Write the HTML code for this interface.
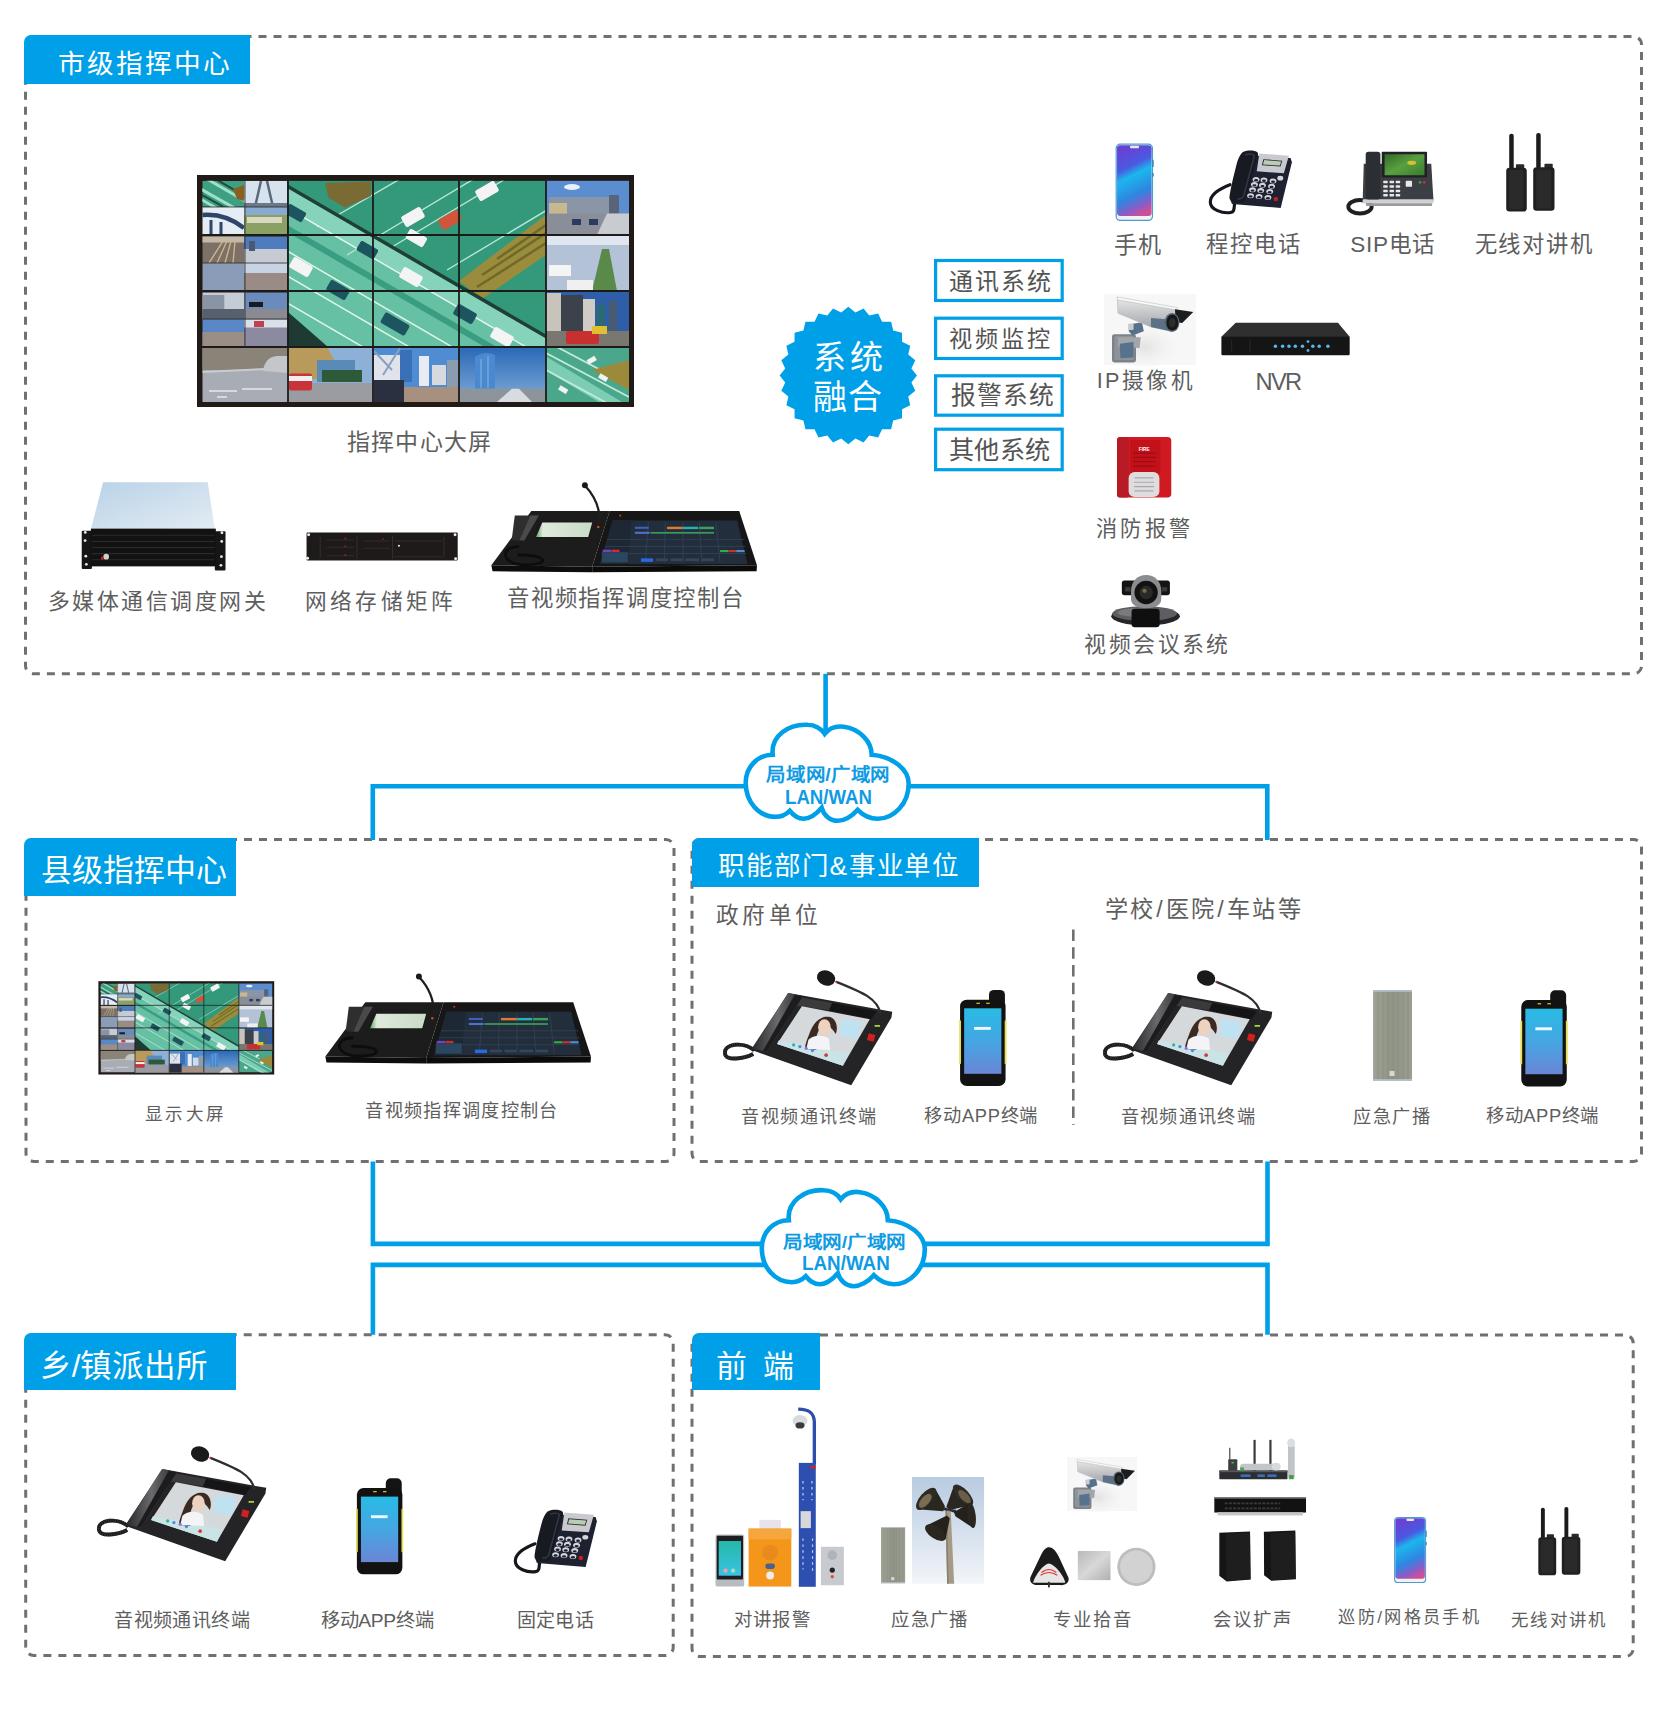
<!DOCTYPE html>
<html lang="zh-CN"><head><meta charset="utf-8"><title>diagram</title>
<style>
html,body{margin:0;padding:0;background:#fff;}
body{width:1667px;height:1715px;position:relative;overflow:hidden;font-family:"Liberation Sans",sans-serif;}
.t{position:absolute;white-space:pre;}
.lab{position:absolute;background:#00a0e9;border-top-left-radius:7px;}
svg{position:absolute;left:0;top:0;}
</style></head><body>
<svg width="1667" height="1715" viewBox="0 0 1667 1715">
<rect x="25.5" y="36.4" width="1616.0" height="637.4" rx="8" ry="8" fill="none" stroke="#707070" stroke-width="3" stroke-dasharray="8 7"/>
<rect x="26" y="839.6" width="648" height="321.80000000000007" rx="8" ry="8" fill="none" stroke="#707070" stroke-width="3" stroke-dasharray="8 7"/>
<rect x="692" y="839.6" width="949.5" height="321.80000000000007" rx="8" ry="8" fill="none" stroke="#707070" stroke-width="3" stroke-dasharray="8 7"/>
<rect x="25.7" y="1334.8" width="647.5" height="320.70000000000005" rx="8" ry="8" fill="none" stroke="#707070" stroke-width="3" stroke-dasharray="8 7"/>
<rect x="692" y="1335" width="941.2" height="321.5" rx="8" ry="8" fill="none" stroke="#707070" stroke-width="3" stroke-dasharray="8 7"/>
<line x1="1073.3" y1="929.6" x2="1073.3" y2="1125" stroke="#707070" stroke-width="2.6" stroke-dasharray="11.5 6.2"/>
<path d="M825.6,673.8 V735" stroke="#00a0e9" stroke-width="4.6" fill="none"/>
<path d="M372.8,839.9 V786.2 H760 M900,786.2 H1267.3 V839.9" stroke="#00a0e9" stroke-width="4.6" fill="none" stroke-linejoin="miter"/>
<path d="M372.9,1161.4 V1243.9 H780 M910,1243.9 H1267.5 V1161.4" stroke="#00a0e9" stroke-width="4.6" fill="none"/>
<path d="M372.9,1334.8 V1264.9 H780 M910,1264.9 H1267.5 V1334.8" stroke="#00a0e9" stroke-width="4.6" fill="none"/>
<path transform="translate(743.7,721.8)" d="M29,33 C27,14 45,2 64,3 C71,3 78,7 81,12 C86,6 93,4 100,5 C116,7 128,20 128,33 C150,35 165,48 165,62 C165,82 150,97 134,97 C126,97 119,93 114,88 C108,95 100,99 94,99 C86,99 80,93 78,86 C72,93 66,97 60,97 C55,97 50,94 46,89 C42,93 37,95 32,95 C15,95 2,80 2,61 C2,45 14,33 29,33 Z" fill="#fff" stroke="#00a0e9" stroke-width="4.6"/>
<path transform="translate(759.8,1187.2)" d="M29,33 C27,14 45,2 64,3 C71,3 78,7 81,12 C86,6 93,4 100,5 C116,7 128,20 128,33 C150,35 165,48 165,62 C165,82 150,97 134,97 C126,97 119,93 114,88 C108,95 100,99 94,99 C86,99 80,93 78,86 C72,93 66,97 60,97 C55,97 50,94 46,89 C42,93 37,95 32,95 C15,95 2,80 2,61 C2,45 14,33 29,33 Z" fill="#fff" stroke="#00a0e9" stroke-width="4.6"/>
<rect x="935.6" y="260.5" width="126.59999999999995" height="40.00000000000004" fill="none" stroke="#00a0e9" stroke-width="3.2"/>
<rect x="935.6" y="318.20000000000005" width="126.59999999999995" height="40.3" fill="none" stroke="#00a0e9" stroke-width="3.2"/>
<rect x="935.6" y="375.8" width="126.59999999999995" height="39.40000000000002" fill="none" stroke="#00a0e9" stroke-width="3.2"/>
<rect x="935.6" y="429.20000000000005" width="126.59999999999995" height="40.499999999999986" fill="none" stroke="#00a0e9" stroke-width="3.2"/>
<polygon points="848.30,306.80 855.41,312.40 863.59,308.52 869.27,315.56 878.11,313.60 882.08,321.73 891.13,321.79 893.20,330.60 902.01,332.67 902.07,341.72 910.20,345.69 908.24,354.53 915.28,360.21 911.40,368.39 917.00,375.50 911.40,382.61 915.28,390.79 908.24,396.47 910.20,405.31 902.07,409.28 902.01,418.33 893.20,420.40 891.13,429.21 882.08,429.27 878.11,437.40 869.27,435.44 863.59,442.48 855.41,438.60 848.30,444.20 841.19,438.60 833.01,442.48 827.33,435.44 818.49,437.40 814.52,429.27 805.47,429.21 803.40,420.40 794.59,418.33 794.53,409.28 786.40,405.31 788.36,396.47 781.32,390.79 785.20,382.61 779.60,375.50 785.20,368.39 781.32,360.21 788.36,354.53 786.40,345.69 794.53,341.72 794.59,332.67 803.40,330.60 805.47,321.79 814.52,321.73 818.49,313.60 827.33,315.56 833.01,308.52 841.19,312.40" fill="#00a0e9"/>
</svg>
<div class="lab" style="left:24px;top:35px;width:226px;height:49px"></div><div class="lab" style="left:24px;top:838px;width:212px;height:58px"></div><div class="lab" style="left:691.5px;top:838px;width:287.0px;height:48.60000000000002px"></div><div class="lab" style="left:24px;top:1333px;width:212px;height:57px"></div><div class="lab" style="left:692px;top:1333px;width:128px;height:57px"></div>
<svg width="1667" height="1715" viewBox="0 0 1667 1715" style="position:absolute;left:0;top:0"><defs>
<linearGradient id="lidg" x1="0" y1="0" x2="1" y2="1"><stop offset="0" stop-color="#b9d2e8"/><stop offset="1" stop-color="#e3ecf3"/></linearGradient>
<linearGradient id="smallscr" x1="0" y1="0" x2="1" y2="0"><stop offset="0" stop-color="#58a858"/><stop offset="0.12" stop-color="#dfe9dc"/><stop offset="1" stop-color="#c8dcc6"/></linearGradient>
<linearGradient id="mphg" x1="0.38" y1="0" x2="0.62" y2="1"><stop offset="0" stop-color="#6a40d4"/><stop offset="0.28" stop-color="#4a5ae0"/><stop offset="0.42" stop-color="#1cb6ee"/><stop offset="0.7" stop-color="#2e86e0"/><stop offset="0.88" stop-color="#8a5cc8"/><stop offset="1" stop-color="#d04e96"/></linearGradient>
<linearGradient id="sipscr" x1="0" y1="0" x2="1" y2="1"><stop offset="0" stop-color="#2f6a2a"/><stop offset="0.5" stop-color="#5aa040"/><stop offset="1" stop-color="#3a7a30"/></linearGradient>
<radialGradient id="camglow" cx="0.5" cy="0.6" r="0.6"><stop offset="0" stop-color="#e2e2e2"/><stop offset="1" stop-color="#ffffff" stop-opacity="0"/></radialGradient>
<linearGradient id="housing" x1="0" y1="0" x2="0" y2="1"><stop offset="0" stop-color="#e4e4e4"/><stop offset="1" stop-color="#9a9ea4"/></linearGradient>
<linearGradient id="hset" x1="0" y1="0" x2="1" y2="0"><stop offset="0" stop-color="#2a2a2c"/><stop offset="0.5" stop-color="#6a6a6e"/><stop offset="1" stop-color="#2a2a2c"/></linearGradient>
<linearGradient id="rpscr" x1="0" y1="0" x2="0" y2="1"><stop offset="0" stop-color="#28bbe6"/><stop offset="0.5" stop-color="#45a6e2"/><stop offset="1" stop-color="#6a86d6"/></linearGradient>
<linearGradient id="facescr" x1="0" y1="0" x2="0" y2="1"><stop offset="0" stop-color="#26b8a8"/><stop offset="1" stop-color="#38c4e4"/></linearGradient>
<linearGradient id="skyg" x1="0" y1="0" x2="0" y2="1"><stop offset="0" stop-color="#b8cbe0"/><stop offset="1" stop-color="#f2f5f9"/></linearGradient>
<linearGradient id="silv" x1="0" y1="0" x2="1" y2="1"><stop offset="0" stop-color="#b8b8b8"/><stop offset="0.5" stop-color="#d8d8d8"/><stop offset="1" stop-color="#b0b0b0"/></linearGradient>
<linearGradient id="bluesky" x1="0" y1="0" x2="0" y2="1"><stop offset="0" stop-color="#2a68b6"/><stop offset="1" stop-color="#80acd8"/></linearGradient>
<linearGradient id="spkg" x1="0" y1="0" x2="1" y2="0"><stop offset="0" stop-color="#9ea394"/><stop offset="0.5" stop-color="#8f9486"/><stop offset="1" stop-color="#9a9e90"/></linearGradient>
</defs>
<defs><g id="wall">
<rect x="0" y="0" width="437" height="232" fill="#221a17"/>
<!-- col0 subtiles -->
<clipPath id="c0"><rect x="5.3" y="5.8" width="85.7" height="221.2"/></clipPath>
<g clip-path="url(#c0)">
<rect x="5.3" y="5.8" width="42" height="26" fill="#3f9f82"/>
<path d="M0,12 L50,40 M0,22 L40,45 M10,4 L55,30" stroke="#9fe0c8" stroke-width="3"/>
<path d="M0,17 L50,45 M15,2 L60,28" stroke="#1f4a40" stroke-width="2"/>
<path d="M36,14 L47,10 L47,26 L40,24Z" fill="#8a6020"/>
<rect x="47.3" y="5.8" width="43" height="26" fill="#d6e2ee"/>
<path d="M58,32 L64,6 M70,6 L76,32" stroke="#5a6878" stroke-width="2.5"/>
<rect x="47.3" y="28" width="43" height="4" fill="#6a7888"/>
<rect x="5.3" y="32" width="42" height="27.5" fill="#e6ecf4"/>
<path d="M5.3,40 Q28,38 47,53" stroke="#2e4468" stroke-width="4.5" fill="none"/>
<path d="M14,45 V59.5 M24,47 V59.5" stroke="#2e4468" stroke-width="3"/>
<rect x="47.3" y="32" width="43" height="27.5" fill="#8aa064"/>
<rect x="47.3" y="32" width="43" height="8" fill="#88aad0"/>
<rect x="50" y="42" width="35" height="6" fill="#d8d8c0"/>
<rect x="5.3" y="61.5" width="42" height="26.5" fill="#7d7066"/>
<rect x="5.3" y="61.5" width="42" height="6" fill="#c4b8a8"/>
<path d="M12,88 L26,66 M20,88 L30,66 M28,88 L34,66 M36,88 L38,66" stroke="#c9b48c" stroke-width="1.4"/>
<rect x="47.3" y="61.5" width="43" height="26.5" fill="#4f7cbc"/>
<rect x="47.3" y="74" width="43" height="14" fill="#c6cad2"/>
<rect x="52" y="66" width="6" height="10" fill="#4a5a70"/>
<rect x="5.3" y="88" width="42" height="28" fill="#8a9cb8"/>
<rect x="47.3" y="88" width="43" height="28" fill="#9a8c84"/>
<rect x="47.3" y="88" width="43" height="10" fill="#c8d4e4"/>
<rect x="5.3" y="117.5" width="42" height="27" fill="#c6ccd6"/>
<rect x="5.3" y="120" width="22" height="14" fill="#8a94a4"/>
<rect x="5.3" y="134" width="42" height="10.5" fill="#56606e"/>
<rect x="47.3" y="117.5" width="43" height="27" fill="#6a8cbc"/>
<rect x="52" y="127" width="14" height="5" fill="#1a1a1a"/>
<rect x="47.3" y="134" width="43" height="10.5" fill="#8a8a90"/>
<rect x="5.3" y="144.5" width="42" height="26.5" fill="#5a88c6"/>
<rect x="5.3" y="157" width="42" height="14" fill="#9a8e86"/>
<rect x="47.3" y="144.5" width="43" height="26.5" fill="#8c8aa0"/>
<rect x="47.3" y="144.5" width="43" height="8" fill="#d8e0ea"/>
<rect x="57" y="146" width="10" height="6" fill="#c04050"/>
<rect x="5.3" y="173" width="85.7" height="54" fill="#a8acb4"/>
<rect x="5.3" y="173" width="85.7" height="22" fill="#8a8478"/>
<path d="M5.3,197 L91,193" stroke="#c8ccd0" stroke-width="2"/>
<path d="M66,196 Q68,182 80,181 L91,181 L91,198 Z" fill="#c4c6ca"/>
<path d="M12,216 H40 M45,214 H75 M20,222 H30" stroke="#e8e8ee" stroke-width="1.6"/>
</g>
<!-- highway -->
<clipPath id="hwclip"><rect x="91" y="5.8" width="258" height="166.2"/></clipPath>
<g clip-path="url(#hwclip)">
<rect x="91" y="5.8" width="258" height="166.2" fill="#66c0a4"/>
<polygon points="80,5.8 360,5.8 360,169 80,6" fill="#33997a"/>
<path d="M150,80 L300,-10 M195,72 L345,-18 M250,95 L400,5 M290,112 L440,22 M120,52 L210,0" stroke="#b8e6d4" stroke-width="1.4"/>
<polygon points="128,8 174,6.5 174,21 148,32.4 131.6,22.7" fill="#7a6a34"/>
<polygon points="348.6,40 348.6,80 285,124 262,106" fill="#9b8b3c"/>
<path d="M285,100 L349,58 M280,112 L349,68 M300,84 L349,50" stroke="#6f6a28" stroke-width="2.5"/>
<polygon points="80,6 360,169 360,190 80,27" fill="#86d3bb"/>
<path d="M80,5 L360,168" stroke="#1f3f36" stroke-width="3.5"/>
<path d="M80,27 L360,190" stroke="#e6f6ef" stroke-width="1.4"/>
<polygon points="80,44 360,207 360,214 80,51" fill="#3a9c80"/>
<path d="M80,70 L360,233 M80,95 L360,258 M80,122 L360,285 M80,145 L360,308" stroke="#e0f4ea" stroke-width="1.5"/>
<polygon points="91,137 91,172 131,172" fill="#1f3a33"/>
<g fill="#f4f4f4">
<rect x="-11" y="-6" width="22" height="12" rx="2" transform="translate(104,92) rotate(30)"/>
<rect x="-11" y="-6" width="22" height="12" rx="2" transform="translate(214,102) rotate(30)"/>
<rect x="-11" y="-6" width="22" height="12" rx="2" transform="translate(305,162) rotate(30)"/>
<rect x="-11" y="-6" width="20" height="11" rx="2" transform="translate(220,64) rotate(30)"/>
<rect x="-11" y="-6" width="22" height="12" rx="2" transform="translate(216,42) rotate(-30)"/>
<rect x="-11" y="-6" width="22" height="12" rx="2" transform="translate(290,16) rotate(-30)"/>
</g>
<rect x="-11" y="-6" width="22" height="12" rx="3" transform="translate(253,45) rotate(-30)" fill="#d0553a"/>
<g fill="#1c5560">
<rect x="-11" y="-6" width="22" height="12" rx="2" transform="translate(141,115) rotate(30)"/>
<rect x="-11" y="-6" width="20" height="11" rx="2" transform="translate(171,76) rotate(30)"/>
<rect x="-14" y="-6" width="28" height="12" rx="2" transform="translate(198,149) rotate(30)"/>
<rect x="-11" y="-6" width="22" height="12" rx="2" transform="translate(268,139) rotate(30)"/>
<rect x="-11" y="-6" width="20" height="11" rx="2" transform="translate(99,39) rotate(30)"/>
</g>
</g>
<!-- row3 -->
<rect x="91" y="172" width="85" height="55" fill="#8db0d6"/>
<polygon points="91,172 130,172 140,190 133,204 91,204" fill="#b89a5a"/>
<rect x="120" y="185" width="38" height="22" fill="#5a8ab8"/>
<rect x="125" y="195" width="40" height="12" fill="#2f5a3a"/>
<rect x="91" y="208" width="85" height="19" fill="#9a9ca2"/>
<rect x="92" y="198.6" width="23" height="16.8" rx="2" fill="#c8343a"/>
<rect x="92" y="201" width="23" height="5" fill="#f0f0f0"/>
<rect x="176" y="172" width="86" height="55" fill="#4f8cd2"/>
<rect x="177" y="180" width="26" height="32" fill="#e0e4ea"/>
<path d="M177,176 L195,195 M203,173 L186,200" stroke="#8aa0c0" stroke-width="2"/>
<rect x="203" y="175" width="12" height="32" fill="#3a70b8"/>
<rect x="222" y="181" width="10" height="30" fill="#e8ecf2"/>
<rect x="235" y="190" width="14" height="20" fill="#d6dae0"/>
<rect x="250" y="185" width="12" height="27" fill="#8a9cb0"/>
<rect x="176" y="212" width="86" height="15" fill="#a89080"/>
<rect x="177" y="205" width="30" height="22" fill="#2a3040"/>
<rect x="262" y="172" width="87" height="55" fill="url(#bluesky)"/>
<path d="M278,213.7 L278,182 Q288,175 298,180 L298,213.7Z" fill="#4a88d0"/>
<path d="M284,213 V184 M291,213 V181" stroke="#7ab0e0" stroke-width="1.2"/>
<rect x="262" y="213.7" width="87" height="13.3" fill="#8e949c"/>
<polygon points="300,227 315,213.7 322,213.7 335,227" fill="#d8dce0"/>
<!-- col4 -->
<rect x="349" y="5.8" width="83" height="54" fill="#5a8ed0"/>
<ellipse cx="375" cy="12" rx="8" ry="3" fill="#e8f0f8"/>
<rect x="352" y="22" width="60" height="17" fill="#8a96a8"/>
<rect x="352" y="28" width="18" height="11" fill="#c8b890"/>
<rect x="412" y="20" width="10" height="19" fill="#5a6478"/>
<rect x="349" y="38.6" width="83" height="21" fill="#8a8e98"/>
<polygon points="410,38.6 432,38.6 432,59.8 400,59.8" fill="#c8ccd0"/>
<rect x="375" y="44" width="9" height="6" fill="#2a3a60"/><rect x="392" y="44" width="9" height="6" fill="#2a3a60"/>
<rect x="349" y="60" width="83" height="56" fill="#b4c2d8"/>
<rect x="349" y="60" width="83" height="10" fill="#dfe6ef"/>
<polygon points="405,74 412,74 420,116 395,116" fill="#5a8a4a"/>
<rect x="352" y="90" width="22" height="11" fill="#f4f4f4"/>
<rect x="370" y="105" width="26" height="11" fill="#f0f0f0"/>
<rect x="349" y="116" width="83" height="56" fill="#2f5ea8"/>
<rect x="349" y="118" width="15" height="40" fill="#c8c4bc"/>
<rect x="364" y="120" width="22" height="38" fill="#3c424c"/>
<rect x="386" y="124" width="12" height="34" fill="#d0ccc4"/>
<rect x="400" y="130" width="8" height="28" fill="#2a6a70"/>
<rect x="412" y="126" width="8" height="32" fill="#4a5a70"/>
<rect x="349" y="156" width="83" height="16" fill="#7a7670"/>
<rect x="369" y="156" width="33" height="13" rx="2" fill="#c83030"/>
<rect x="395" y="151" width="15" height="8" fill="#e0c030"/>
<clipPath id="c4r3"><rect x="349" y="172" width="83" height="55"/></clipPath><g clip-path="url(#c4r3)"><rect x="349" y="172" width="83" height="55" fill="#4aa78b"/>
<polygon points="340,176 440,236 440,250 340,190" fill="#7ccdb4"/>
<path d="M349,178 L432,222 M349,195 L432,240 M360,172 L432,210" stroke="#c2ead8" stroke-width="1.8"/>
<path d="M432,185 L432,215 L395,195Z" fill="#9a8a3a"/>
<g fill="#f2f2f2"><rect x="390" y="183" width="9" height="5" transform="rotate(-30 394 185)"/><rect x="402" y="200" width="9" height="5" transform="rotate(30 406 202)"/><rect x="362" y="212" width="9" height="5" transform="rotate(30 366 214)"/></g>
</g>
<!-- grid -->
<path d="M91,5.8 V227 M176,5.8 V227 M262,5.8 V227 M349,5.8 V227 M5.3,60 H432 M5.3,116 H432 M5.3,172 H432" stroke="#1d1b1a" stroke-width="1.8"/>
<path d="M48,5.8 V172 M5.3,32 H91 M5.3,88 H91 M5.3,144 H91" stroke="#2a2a2a" stroke-width="0.8"/>
</g>
</defs><!-- server -->
<g transform="translate(70,470) scale(0.10198)">
<polygon points="325,120 1350,120 1420,580 205,580" fill="url(#lidg)"/>
<rect x="115" y="595" width="100" height="375" rx="10" fill="#161616"/>
<rect x="1420" y="600" width="105" height="385" rx="10" fill="#161616"/>
<rect x="205" y="575" width="1225" height="370" fill="#121212"/>
<path d="M215,640 H1420 M215,700 H1420 M215,760 H1420 M215,820 H1420 M215,880 H1420" stroke="#2b2b2b" stroke-width="10"/>
<g fill="#e8e8e8"><circle cx="150" cy="612" r="14"/><circle cx="148" cy="692" r="14"/><circle cx="155" cy="845" r="14"/><circle cx="160" cy="925" r="14"/>
<circle cx="1490" cy="615" r="14"/><circle cx="1488" cy="700" r="14"/><circle cx="1485" cy="850" r="14"/><circle cx="1480" cy="935" r="14"/></g>
<circle cx="355" cy="850" r="28" fill="#cfcfcf"/><rect x="305" y="850" width="22" height="30" fill="#d02020"/>
</g>
<!-- NAS -->
<g transform="translate(295,520) scale(0.104976)">
<rect x="110" y="118" width="1440" height="268" rx="10" fill="#1e1a1a"/>
<path d="M240,160 V360 M590,150 V370 M930,150 V370 M1420,160 V360" stroke="#3a3434" stroke-width="8"/>
<path d="M300,190 H560 M300,260 H560 M300,340 H560 M650,200 H900 M650,270 H900 M950,200 H1400 M950,350 H1400" stroke="#332c2c" stroke-width="10"/>
<g fill="#8a2020"><circle cx="480" cy="175" r="10"/><circle cx="480" cy="250" r="10"/><circle cx="480" cy="335" r="10"/><circle cx="840" cy="180" r="8"/></g>
<g fill="#eee"><circle cx="130" cy="140" r="14"/><circle cx="1525" cy="140" r="14"/><circle cx="120" cy="365" r="14"/><circle cx="1530" cy="370" r="14"/><circle cx="990" cy="245" r="10"/></g>
</g>
<!-- console -->
<g id="console" transform="translate(480,470) scale(0.173974)">
<polygon points="295,236 745,236 645,556 65,548" fill="#1c1c1c"/>
<polygon points="65,548 645,556 645,588 72,582" fill="#0d0d0d"/>
<polygon points="745,236 1490,236 1592,548 645,556" fill="#161616"/>
<polygon points="645,556 1592,548 1590,582 645,588" fill="#0b0b0b"/>
<polygon points="762,290 1478,290 1538,540 690,540" fill="#222e3c"/>
<polygon points="762,290 870,290 850,540 690,540" fill="#1e2834"/>
<path d="M730,400 H1520 M720,440 H1525 M712,480 H1530 M968,300 L950,530 M1065,300 L1060,530 M1165,300 L1168,530 M1260,300 L1275,530 M1355,300 L1380,530" stroke="#314254" stroke-width="5"/>
<rect x="1075" y="326" width="90" height="14" fill="#e07a30"/>
<rect x="1165" y="326" width="90" height="14" fill="#2ab0b0"/>
<rect x="1260" y="326" width="85" height="14" fill="#3aa060"/>
<rect x="890" y="326" width="80" height="12" fill="#4060c0"/>
<rect x="890" y="355" width="85" height="12" fill="#5070d0"/>
<rect x="980" y="356" width="365" height="10" fill="#3a9a5a"/>
<rect x="925" y="508" width="70" height="20" fill="#2a6ae0"/>
<rect x="705" y="458" width="50" height="14" fill="#7a40c0"/>
<rect x="757" y="458" width="45" height="14" fill="#d02a2a"/>
<rect x="700" y="472" width="150" height="60" fill="#2a4660"/>
<rect x="1010" y="508" width="70" height="16" fill="#34465a"/><rect x="1095" y="508" width="70" height="16" fill="#34465a"/><rect x="1180" y="508" width="80" height="16" fill="#34465a"/><rect x="1275" y="508" width="70" height="16" fill="#34465a"/>
<rect x="1380" y="460" width="48" height="12" fill="#30b040"/><rect x="1428" y="460" width="45" height="12" fill="#d03030"/><rect x="1473" y="460" width="48" height="12" fill="#5090d0"/>
<polygon points="340,295 652,295 628,392 305,392" fill="#1a1a1a"/>
<polygon points="358,302 645,302 622,385 322,385" fill="url(#smallscr)"/>
<polygon points="200,262 338,262 250,408 182,402" fill="#2e2e2e"/>
<polygon points="290,262 338,262 255,405 228,402" fill="#4a4a4a"/>
<path d="M225,440 C110,440 120,545 260,545 C400,545 400,488 215,488" stroke="#0d0d0d" stroke-width="16" fill="none"/>
<path d="M690,305 C690,220 660,150 605,92" stroke="#1e1e1e" stroke-width="13" fill="none"/>
<circle cx="603" cy="88" r="17" fill="#1a1a1a"/>
<circle cx="680" cy="328" r="7" fill="#d04a20"/>
<circle cx="806" cy="262" r="6" fill="#c04020"/>
</g>
<!-- mobile phone -->
<g id="mphone" transform="translate(1100,125) scale(0.119976)">
<rect x="130" y="155" width="312" height="645" rx="38" fill="#4a9ccf"/>
<rect x="140" y="165" width="292" height="625" rx="30" fill="#f2f2f2"/>
<rect x="142" y="168" width="288" height="590" rx="26" fill="url(#mphg)"/>
<rect x="250" y="172" width="75" height="22" rx="8" fill="#e8e8e8"/>
<rect x="437" y="290" width="10" height="60" fill="#2a7ab0"/><rect x="437" y="400" width="10" height="30" fill="#2a7ab0"/>
</g>
<!-- desk phone symbol -->
<g id="dphone" transform="translate(1195,135.9) scale(0.066007)">
<path d="M605,1000 C585,1080 610,1150 540,1160 C420,1178 230,1120 232,1000 C234,880 400,790 530,740" stroke="#15171c" stroke-width="48" fill="none" stroke-linecap="round"/>
<polygon points="700,285 1448,335 1468,398 1298,1092 560,1032 540,980" fill="#1d2130"/>
<polygon points="975,266 1422,300 1346,566 935,536" fill="#c8cacf"/>
<polygon points="1035,352 1322,376 1296,464 1014,444" fill="#2c2c30"/>
<polygon points="1048,366 1306,386 1286,450 1030,432" fill="#b8cdb3"/>
<g fill="#d4d6dc">
<ellipse cx="925" cy="660" rx="52" ry="38"/><ellipse cx="1045" cy="668" rx="52" ry="38"/><ellipse cx="1182" cy="682" rx="52" ry="38"/>
<ellipse cx="900" cy="737" rx="52" ry="38"/><ellipse cx="1022" cy="748" rx="52" ry="38"/><ellipse cx="1160" cy="762" rx="52" ry="38"/>
<ellipse cx="872" cy="817" rx="52" ry="38"/><ellipse cx="996" cy="828" rx="52" ry="38"/><ellipse cx="1132" cy="842" rx="52" ry="38"/>
<ellipse cx="842" cy="905" rx="52" ry="38"/><ellipse cx="970" cy="918" rx="52" ry="38"/><ellipse cx="1105" cy="932" rx="52" ry="38"/>
<ellipse cx="1292" cy="640" rx="45" ry="35"/>
</g>
<g fill="#1d2130"><ellipse cx="925" cy="672" rx="30" ry="18"/><ellipse cx="1045" cy="680" rx="30" ry="18"/><ellipse cx="1182" cy="694" rx="30" ry="18"/>
<ellipse cx="900" cy="749" rx="30" ry="18"/><ellipse cx="1022" cy="760" rx="30" ry="18"/><ellipse cx="1160" cy="774" rx="30" ry="18"/>
<ellipse cx="872" cy="829" rx="30" ry="18"/><ellipse cx="996" cy="840" rx="30" ry="18"/><ellipse cx="1132" cy="854" rx="30" ry="18"/>
<ellipse cx="842" cy="917" rx="30" ry="18"/><ellipse cx="970" cy="930" rx="30" ry="18"/><ellipse cx="1105" cy="944" rx="30" ry="18"/></g>
<circle cx="1225" cy="955" r="35" fill="#c02020"/>
<path d="M735,242 C790,215 905,212 948,252 C965,280 955,322 935,362 L772,930 C757,990 730,1012 680,1012 C600,1012 540,992 525,952 C515,920 560,700 620,470 C650,350 685,268 735,242 Z" fill="#181a22"/>
<path d="M760,290 C820,270 880,275 900,300 L740,900 C720,950 690,960 640,955" stroke="#343846" stroke-width="22" fill="none"/>
</g>
<!-- SIP phone + walkies -->
<g id="walkies" transform="translate(1330,125) scale(0.149970)">
<rect x="1195" y="58" width="30" height="240" rx="14" fill="#1c1c1c"/>
<rect x="1240" y="262" width="55" height="35" rx="6" fill="#2a2a2a"/>
<rect x="1175" y="285" width="137" height="292" rx="22" fill="#202020"/>
<rect x="1195" y="300" width="95" height="260" rx="10" fill="#2a2a2a"/>
<rect x="1375" y="53" width="30" height="240" rx="14" fill="#1c1c1c"/>
<rect x="1430" y="258" width="55" height="35" rx="6" fill="#2a2a2a"/>
<rect x="1355" y="282" width="142" height="290" rx="22" fill="#202020"/>
<rect x="1375" y="298" width="100" height="258" rx="10" fill="#2a2a2a"/>
</g>
<g transform="translate(1330,125) scale(0.149970)">
<ellipse cx="200" cy="545" rx="78" ry="45" stroke="#1e2024" stroke-width="26" fill="none"/>
<polygon points="225,258 675,258 690,505 218,505" fill="#3b3e44"/>
<rect x="218" y="495" width="472" height="28" rx="6" fill="#cfd1d4"/>
<rect x="240" y="522" width="440" height="18" fill="#9a9a9a"/>
<rect x="238" y="178" width="98" height="318" rx="18" fill="#2b2f34"/>
<rect x="345" y="178" width="302" height="172" rx="6" fill="#1f2124"/>
<rect x="364" y="195" width="266" height="140" fill="url(#sipscr)"/>
<ellipse cx="545" cy="252" rx="30" ry="14" fill="#d8c030"/>
<g fill="#e8e8e8"><rect x="355" y="372" width="30" height="16" rx="4"/><rect x="397" y="372" width="30" height="16" rx="4"/><rect x="438" y="372" width="30" height="16" rx="4"/>
<rect x="355" y="402" width="30" height="16" rx="4"/><rect x="397" y="402" width="30" height="16" rx="4"/><rect x="438" y="402" width="30" height="16" rx="4"/>
<rect x="355" y="432" width="30" height="16" rx="4"/><rect x="397" y="432" width="30" height="16" rx="4"/><rect x="438" y="432" width="30" height="16" rx="4"/>
<rect x="355" y="460" width="30" height="16" rx="4"/><rect x="397" y="460" width="30" height="16" rx="4"/><rect x="438" y="460" width="30" height="16" rx="4"/>
<rect x="505" y="372" width="42" height="40" rx="6"/></g>
<circle cx="600" cy="382" r="9" fill="#30a040"/><circle cx="628" cy="382" r="9" fill="#d03030"/>
</g>
<!-- IP camera -->
<g id="ipcam" transform="translate(1100,288) scale(0.059988)">
<rect x="67" y="100" width="1533" height="1183" fill="#f7f7f7"/>
<ellipse cx="750" cy="900" rx="650" ry="420" fill="url(#camglow)"/>
<rect x="200" y="770" width="400" height="470" rx="40" fill="#7c8288"/>
<rect x="240" y="800" width="330" height="400" rx="25" fill="#8e9399"/>
<polygon points="300,820 680,820 660,1000 300,980" fill="#a2a6aa"/>
<polygon points="330,930 560,900 560,1160 340,1170" fill="#58728c"/>
<polygon points="480,610 700,570 730,720 540,790 480,720" fill="#56718b"/>
<rect x="470" y="590" width="90" height="110" rx="20" fill="#c9cbcc"/>
<polygon points="290,195 1290,365 1260,470 1180,720 850,650 300,420" fill="url(#housing)" stroke="#b8bcc0" stroke-width="12"/>
<polygon points="285,150 1290,325 1290,368 290,198" fill="#fafafa" stroke="#c4c6c8" stroke-width="12"/>
<polygon points="850,500 1100,520 1180,720 850,650" fill="#5d7186"/>
<polygon points="1250,355 1555,400 1370,585 1260,565" fill="#1d1d1d"/>
<ellipse cx="1200" cy="575" rx="125" ry="160" fill="#56687a"/>
<ellipse cx="1205" cy="575" rx="100" ry="135" fill="#181818"/>
<ellipse cx="1205" cy="580" rx="55" ry="75" fill="#2c2c2c"/>
</g>
<!-- NVR -->
<g transform="translate(1095,285) scale(0.158983)">
<polygon points="885,238 1528,238 1602,326 795,326" fill="#2f2f30"/>
<rect x="795" y="322" width="807" height="120" rx="8" fill="#151515"/>
<path d="M860,345 V420 M975,345 V420" stroke="#2a2a2a" stroke-width="6"/>
<g fill="#58b6ee"><circle cx="1135" cy="385" r="11"/><circle cx="1180" cy="385" r="11"/><circle cx="1220" cy="385" r="11"/><circle cx="1260" cy="385" r="11"/><circle cx="1305" cy="385" r="11"/><circle cx="1370" cy="385" r="11"/><circle cx="1410" cy="385" r="11"/><circle cx="1465" cy="385" r="11"/><circle cx="1340" cy="356" r="9"/><circle cx="1340" cy="412" r="9"/></g>
</g>
<!-- fire alarm -->
<g transform="translate(1100,425) scale(0.053996)">
<rect x="315" y="220" width="1005" height="1125" rx="70" fill="#cf1a22"/>
<rect x="315" y="220" width="220" height="1125" rx="60" fill="#b81a26"/>
<rect x="560" y="280" width="560" height="620" rx="20" fill="#c3111a"/>
<path d="M610,520 H1030 M610,600 H1030 M610,680 H1030 M610,760 H1030" stroke="#9c0c14" stroke-width="22"/>
<text x="820" y="480" font-family="Liberation Sans" font-size="90" font-weight="700" fill="#fff" text-anchor="middle">FIRE</text>
<rect x="530" y="870" width="570" height="465" rx="110" fill="#dedcdc"/>
<path d="M640,980 H990 M630,1060 H1000 M630,1140 H1000 M640,1220 H990" stroke="#a8a8b0" stroke-width="22"/>
</g>
<!-- conference camera -->
<g transform="translate(1070,505) scale(0.107991)">
<ellipse cx="700" cy="1030" rx="318" ry="85" fill="#262628"/>
<ellipse cx="690" cy="1005" rx="300" ry="68" fill="#5e5e62"/>
<ellipse cx="620" cy="995" rx="180" ry="40" fill="#7a7a7e"/>
<rect x="570" y="960" width="260" height="172" rx="30" fill="#0f0f0f"/>
<rect x="480" y="700" width="445" height="135" rx="25" fill="#141414"/>
<rect x="510" y="760" width="50" height="40" fill="#3a3a3a"/><rect x="850" y="760" width="50" height="40" fill="#3a3a3a"/>
<path d="M565,800 C565,700 630,648 705,648 C780,648 845,700 845,800 L845,870 C845,920 800,955 705,955 C610,955 565,920 565,870Z" fill="#8c8c90"/>
<circle cx="705" cy="810" r="108" fill="#121212"/>
<circle cx="705" cy="810" r="62" fill="#2a2a2a"/>
<circle cx="690" cy="795" r="20" fill="#7a6a40"/>
</g>
<!-- video terminal -->
<g id="vterm" transform="translate(715,960) scale(0.113973)">
<path d="M345,792 C250,715 70,730 88,825 C100,885 250,870 335,825" stroke="#1a1a1a" stroke-width="34" fill="none"/>
<path d="M345,792 C250,715 70,730 88,825 C100,885 250,870 335,825" stroke="#3a3a3a" stroke-width="34" fill="none" stroke-dasharray="6 14"/>
<polygon points="645,290 1555,455 1548,505 1195,1098 335,795 330,765" fill="#242426"/>
<polygon points="760,330 1030,378 1000,440 700,400" fill="#3a3a3c"/>
<polygon points="1030,378 1420,450 1370,520 1000,440" fill="#151517"/>
<polygon points="762,405 1358,520 1122,928 545,738" fill="#d6d9dc"/>
<polygon points="560,705 1175,820 1122,928 545,738" fill="#c9e3e6"/>
<path d="M1010,500 C920,480 860,560 830,640 C800,720 780,770 800,780 L890,790 C870,700 900,600 960,560 C1010,580 1040,620 1060,650 C1080,600 1070,520 1010,500Z" fill="#3a2a22"/>
<ellipse cx="960" cy="590" rx="55" ry="70" fill="#eed2c0"/>
<path d="M820,700 C860,660 940,650 1000,690 L1010,790 L800,780Z" fill="#f4f4f6"/>
<polygon points="1105,522 1290,545 1250,690 1095,670" fill="#bfe2f2"/>
<circle cx="975" cy="835" r="16" fill="#d03a30"/><circle cx="690" cy="745" r="14" fill="#30b0a0"/><circle cx="745" cy="760" r="14" fill="#4a8ae0"/><circle cx="800" cy="775" r="14" fill="#9a6ae0"/><circle cx="855" cy="795" r="14" fill="#4a8ae0"/>
<polygon points="640,290 770,318 455,805 330,778" fill="url(#hset)"/>
<polygon points="700,305 770,318 455,805 420,798" fill="#1c1c1e"/>
<rect x="1340" y="650" width="60" height="60" fill="#d02020" transform="rotate(15 1370 680)"/>
<rect x="1400" y="570" width="48" height="16" fill="#a8d040"/>
<path d="M1452,470 C1425,340 1310,290 1065,192" stroke="#2e2e2e" stroke-width="20" fill="none"/>
<ellipse cx="975" cy="158" rx="82" ry="66" transform="rotate(20 975 158)" fill="#1a1a1a"/>
<circle cx="1065" cy="192" r="10" fill="#c03030"/>
</g>
<use href="#vterm" transform="translate(380,0)"/>
<use href="#vterm" transform="translate(-626,476)"/>
<!-- rugged phone -->
<g id="rphone" transform="translate(940,975) scale(0.069979)">
<rect x="700" y="213" width="228" height="350" rx="70" fill="#141414"/>
<rect x="278" y="650" width="670" height="620" fill="#e6df5a"/>
<rect x="287" y="352" width="650" height="1235" rx="95" fill="#121212"/>
<rect x="276" y="650" width="24" height="620" fill="#e6df5a"/><rect x="924" y="650" width="24" height="620" fill="#e6df5a"/>
<rect x="345" y="476" width="532" height="936" fill="url(#rpscr)"/>
<rect x="488" y="742" width="238" height="42" fill="#ffffff" opacity="0.9"/>
<rect x="520" y="396" width="50" height="18" fill="#d8c020"/><rect x="660" y="396" width="50" height="18" fill="#d8c020"/>
</g>
<use href="#rphone" transform="translate(561.2,0.4)"/>
<use href="#rphone" transform="translate(-603.2,488.3)"/>
<!-- column speakers -->
<g id="colspk">
<rect x="1373.1" y="990.1" width="38.9" height="90.7" fill="url(#spkg)"/>
<path d="M1378,992 V1079 M1383,992 V1079 M1388,992 V1079 M1393,992 V1079 M1398,992 V1079 M1403,992 V1079 M1408,992 V1079" stroke="#868a7e" stroke-width="0.9" opacity="0.7"/>
<rect x="1373.1" y="990.1" width="38.9" height="1.6" fill="#b9c2cf"/>
<rect x="1373.1" y="1079.2" width="38.9" height="1.6" fill="#b9c2cf"/>
<rect x="1389.5" y="1071" width="5" height="5" fill="#d8d8d0"/>
</g>
<use href="#colspk" transform="translate(881,1527) scale(0.62) translate(-1373.1,-990.1)"/>
<!-- intercom group -->
<g transform="translate(705,1395) scale(0.119503)">
<rect x="88" y="1168" width="240" height="435" rx="16" fill="#b8bcc0"/>
<rect x="98" y="1178" width="220" height="365" rx="8" fill="#1e1e22"/>
<rect x="115" y="1222" width="186" height="290" fill="url(#facescr)"/>
<circle cx="172" cy="1470" r="18" fill="#f0a0b0"/><circle cx="235" cy="1470" r="18" fill="#a0e0c0"/>
<rect x="455" y="1045" width="180" height="78" fill="#e8e2ea"/>
<rect x="365" y="1118" width="357" height="485" fill="#f39619"/>
<rect x="365" y="1118" width="357" height="90" fill="#f5a63c"/>
<circle cx="545" cy="1320" r="65" fill="#e88a1c"/>
<rect x="505" y="1410" width="80" height="45" rx="20" fill="#4a6090"/>
<circle cx="545" cy="1510" r="33" fill="#f0ece8"/>
<path d="M915,580 L915,230 C915,150 870,118 780,118" stroke="#2c4fae" stroke-width="28" fill="none"/>
<ellipse cx="795" cy="215" rx="62" ry="48" fill="#d8dadc"/>
<ellipse cx="795" cy="255" rx="38" ry="26" fill="#3a3a3e"/>
<rect x="785" y="568" width="142" height="1037" fill="#2d50b0"/>
<rect x="880" y="592" width="45" height="24" fill="#c82828"/>
<rect x="800" y="972" width="86" height="142" fill="#d6d8da"/>
<path d="M820,720 V880 M895,720 V880 M820,1200 V1460 M900,1200 V1480" stroke="#c8d0f0" stroke-width="10" stroke-dasharray="20 30"/>
<rect x="970" y="1270" width="192" height="322" fill="#c7cace"/>
<circle cx="1065" cy="1340" r="40" fill="#b0b4b8"/>
<circle cx="1065" cy="1465" r="22" fill="#222"/>
<circle cx="1065" cy="1520" r="14" fill="#e0502a"/>
</g>
<!-- horn photo + column speaker -->
<g transform="translate(905,1470) scale(0.069979)">
<rect x="100" y="100" width="1030" height="1525" fill="url(#skyg)"/>
<polygon points="578,560 652,560 702,1625 602,1625" fill="#a49a86"/>
<polygon points="578,560 600,560 625,1625 602,1625" fill="#8a8070"/>
<path d="M490,520 L740,610 M520,560 L730,580" stroke="#2a2e3a" stroke-width="26"/>
<polygon points="175,560 430,265 570,515 545,590" fill="#2a2620"/>
<ellipse cx="302" cy="412" rx="195" ry="88" transform="rotate(-49 302 412)" fill="#2e2a24"/>
<ellipse cx="290" cy="440" rx="120" ry="60" transform="rotate(-49 290 440)" fill="#7a6c52"/>
<polygon points="700,220 960,500 640,570 590,530" fill="#2a2620"/>
<ellipse cx="830" cy="360" rx="191" ry="85" transform="rotate(47 830 360)" fill="#2e2a24"/>
<ellipse cx="850" cy="380" rx="120" ry="55" transform="rotate(47 850 380)" fill="#6a5e48"/>
<polygon points="930,470 975,830 720,660 700,600" fill="#24211d"/>
<ellipse cx="952" cy="650" rx="181" ry="58" transform="rotate(83 952 650)" fill="#2a2620"/>
<polygon points="295,800 580,990 640,690 600,650" fill="#24211d"/>
<ellipse cx="437" cy="895" rx="171" ry="85" transform="rotate(34 437 895)" fill="#2a2620"/>
</g>
<!-- pickup group -->
<use href="#ipcam" transform="translate(1073.2,1487.6) scale(0.76) translate(-1112,-334.2)"/>
<g transform="translate(1020,1440) scale(0.093284)">
<path d="M310,1150 C350,1150 385,1185 420,1260 L520,1478 C532,1530 485,1565 420,1555 L190,1555 C115,1555 92,1505 120,1452 L225,1232 C258,1172 280,1150 310,1150Z" fill="#1b1b1b"/>
<path d="M310,1325 C360,1325 470,1450 485,1530 L140,1530 C160,1450 260,1325 310,1325Z" fill="#e6e6e6"/>
<path d="M230,1420 C280,1380 340,1380 390,1420 M220,1450 C280,1410 340,1410 400,1450" stroke="#e03030" stroke-width="12" fill="none"/>
<rect x="300" y="1520" width="20" height="60" fill="#333"/>
<rect x="620" y="1190" width="350" height="312" fill="url(#silv)"/>
<circle cx="1248" cy="1360" r="205" fill="#bdbdbd"/>
<circle cx="1248" cy="1360" r="175" fill="#d2d2d2"/>
</g>
<!-- conference audio -->
<g transform="translate(1195,1425) scale(0.099128)">
<rect x="590" y="150" width="22" height="315" fill="#3a3a3a"/><rect x="750" y="150" width="22" height="315" fill="#3a3a3a"/>
<rect x="345" y="230" width="12" height="120" fill="#444"/>
<rect x="335" y="345" width="92" height="122" rx="10" fill="#3c3e42"/><rect x="368" y="372" width="24" height="16" fill="#40c040"/>
<rect x="245" y="458" width="688" height="90" rx="8" fill="#2c2e32"/>
<rect x="245" y="458" width="688" height="18" fill="#56585c"/>
<rect x="460" y="498" width="100" height="26" fill="#3a70b8"/><rect x="630" y="498" width="75" height="26" fill="#3a70b8"/><rect x="730" y="498" width="92" height="26" fill="#3a70b8"/>
<rect x="455" y="392" width="400" height="62" rx="28" fill="#c2c6cb"/><ellipse cx="820" cy="420" rx="45" ry="40" fill="#d6dade"/><rect x="455" y="428" width="40" height="30" fill="#40b040"/>
<rect x="938" y="200" width="68" height="345" rx="22" fill="#c0c4c8"/><ellipse cx="970" cy="180" rx="40" ry="45" fill="#dadee2"/><rect x="950" y="505" width="45" height="42" fill="#3aa040"/>
<rect x="195" y="728" width="925" height="155" fill="#121212"/>
<rect x="195" y="728" width="925" height="14" fill="#8a8a8a"/>
<path d="M300,790 H860 M300,840 H860" stroke="#3a3a3a" stroke-width="18" stroke-dasharray="30 12"/>
<rect x="228" y="880" width="860" height="32" fill="#c6c6c6"/>
<polygon points="245,1088 555,1075 562,1558 320,1578 245,1520" fill="#151515"/>
<polygon points="310,1100 555,1088 558,1555 318,1570" fill="#1e1e1e"/>
<polygon points="695,1078 1012,1065 1018,1555 770,1572 697,1515" fill="#151515"/>
<polygon points="760,1092 1010,1080 1014,1552 768,1566" fill="#1e1e1e"/>
</g>
<!-- box5 phone & walkies -->
<use href="#mphone" transform="translate(1394.1,1516.9) scale(0.855) translate(-1115.6,-143.6)"/>
<use href="#walkies" transform="translate(1538.3,1507.2) scale(0.87) translate(-1506.2,-133.2)"/>
<!-- video walls -->
<use href="#wall" transform="translate(197,175)"/>
<use href="#wall" transform="translate(98.4,981.2) scale(0.4023)"/>
<!-- box2 console, box4 desk phone -->
<use href="#console" transform="translate(-166,491.2)"/>
<use href="#dphone" transform="translate(-695,1359.1)"/>
</svg>
<div class="t" style="left:58.06px;top:51.00px;font-size:26.70px;line-height:26.70px;letter-spacing:1.98px;color:#ffffff;font-weight:400">市级指挥中心</div>
<div class="t" style="left:41.04px;top:855.60px;font-size:30.96px;line-height:30.96px;letter-spacing:-0.03px;color:#ffffff;font-weight:400">县级指挥中心</div>
<div class="t" style="left:718.34px;top:852.70px;font-size:26.49px;line-height:26.49px;letter-spacing:1.78px;color:#ffffff;font-weight:400">职能部门&事业单位</div>
<div class="t" style="left:39.89px;top:1350.68px;font-size:31.52px;line-height:31.52px;letter-spacing:-0.13px;color:#ffffff;font-weight:400">乡/镇派出所</div>
<div class="t" style="left:716.16px;top:1351.70px;font-size:30.85px;line-height:30.85px;letter-spacing:3.47px;color:#ffffff;font-weight:400">前 端</div>
<div class="t" style="left:347.11px;top:430.80px;font-size:22.98px;line-height:22.98px;letter-spacing:1.19px;color:#5e5e5e;font-weight:400">指挥中心大屏</div>
<div class="t" style="left:48.05px;top:590.50px;font-size:21.91px;line-height:21.91px;letter-spacing:2.44px;color:#5e5e5e;font-weight:400">多媒体通信调度网关</div>
<div class="t" style="left:305.05px;top:590.72px;font-size:21.68px;line-height:21.68px;letter-spacing:3.16px;color:#5e5e5e;font-weight:400">网络存储矩阵</div>
<div class="t" style="left:506.98px;top:588.40px;font-size:22.34px;line-height:22.34px;letter-spacing:1.77px;color:#5e5e5e;font-weight:400">音视频指挥调度控制台</div>
<div class="t" style="left:1113.94px;top:234.40px;font-size:23.12px;line-height:23.12px;letter-spacing:0.78px;color:#5e5e5e;font-weight:400">手机</div>
<div class="t" style="left:1206.43px;top:233.80px;font-size:22.37px;line-height:22.37px;letter-spacing:1.77px;color:#5e5e5e;font-weight:400">程控电话</div>
<div class="t" style="left:1350.37px;top:233.57px;font-size:22.61px;line-height:22.61px;letter-spacing:0.58px;color:#5e5e5e;font-weight:400">SIP电话</div>
<div class="t" style="left:1474.71px;top:233.80px;font-size:22.37px;line-height:22.37px;letter-spacing:1.75px;color:#5e5e5e;font-weight:400">无线对讲机</div>
<div class="t" style="left:1096.75px;top:370.10px;font-size:21.61px;line-height:21.61px;letter-spacing:2.36px;color:#5e5e5e;font-weight:400">IP摄像机</div>
<div class="t" style="left:1255.50px;top:370.84px;font-size:23.71px;line-height:23.71px;letter-spacing:-1.68px;color:#5e5e5e;font-weight:400">NVR</div>
<div class="t" style="left:1096.15px;top:518.00px;font-size:21.17px;line-height:21.17px;letter-spacing:3.30px;color:#5e5e5e;font-weight:400">消防报警</div>
<div class="t" style="left:1084.22px;top:634.00px;font-size:21.91px;line-height:21.91px;letter-spacing:2.45px;color:#5e5e5e;font-weight:400">视频会议系统</div>
<div class="t" style="left:948.54px;top:269.50px;font-size:23.98px;line-height:23.98px;letter-spacing:2.13px;color:#545454;font-weight:400">通讯系统</div>
<div class="t" style="left:949.47px;top:328.10px;font-size:23.19px;line-height:23.19px;letter-spacing:2.86px;color:#545454;font-weight:400">视频监控</div>
<div class="t" style="left:950.56px;top:383.90px;font-size:24.79px;line-height:24.79px;letter-spacing:1.03px;color:#545454;font-weight:400">报警系统</div>
<div class="t" style="left:949.14px;top:438.20px;font-size:25.16px;line-height:25.16px;letter-spacing:0.37px;color:#545454;font-weight:400">其他系统</div>
<div class="t" style="left:813.29px;top:341.10px;font-size:33.01px;line-height:33.01px;letter-spacing:3.61px;color:#ffffff;font-weight:400">系统</div>
<div class="t" style="left:812.90px;top:379.86px;font-size:33.98px;line-height:33.98px;letter-spacing:1.36px;color:#ffffff;font-weight:400">融合</div>
<div class="t" style="left:766.01px;top:767.48px;font-size:17.73px;line-height:17.73px;transform:scaleX(1.0988);transform-origin:0 0;color:#0f9be3;font-weight:900">局域网/广域网</div>
<div class="t" style="left:784.69px;top:786.55px;font-size:20.40px;line-height:20.40px;transform:scaleX(0.9144);transform-origin:0 0;color:#0f9be3;font-weight:700">LAN/WAN</div>
<div class="t" style="left:783.40px;top:1233.67px;font-size:17.01px;line-height:17.01px;transform:scaleX(1.1511);transform-origin:0 0;color:#0f9be3;font-weight:900">局域网/广域网</div>
<div class="t" style="left:801.98px;top:1252.77px;font-size:20.27px;line-height:20.27px;transform:scaleX(0.9280);transform-origin:0 0;color:#0f9be3;font-weight:700">LAN/WAN</div>
<div class="t" style="left:144.90px;top:1106.02px;font-size:17.53px;line-height:17.53px;letter-spacing:2.32px;color:#5e5e5e;font-weight:400">显示大屏</div>
<div class="t" style="left:365.19px;top:1101.90px;font-size:18.19px;line-height:18.19px;letter-spacing:1.36px;color:#5e5e5e;font-weight:400">音视频指挥调度控制台</div>
<div class="t" style="left:715.82px;top:903.90px;font-size:22.69px;line-height:22.69px;letter-spacing:3.55px;color:#5e5e5e;font-weight:400">政府单位</div>
<div class="t" style="left:1104.61px;top:898.30px;font-size:23.19px;line-height:23.19px;letter-spacing:2.84px;color:#5e5e5e;font-weight:400">学校/医院/车站等</div>
<div class="t" style="left:741.10px;top:1107.60px;font-size:18.09px;line-height:18.09px;letter-spacing:1.51px;color:#5e5e5e;font-weight:400">音视频通讯终端</div>
<div class="t" style="left:924.45px;top:1107.42px;font-size:18.28px;line-height:18.28px;letter-spacing:0.73px;color:#5e5e5e;font-weight:400">移动APP终端</div>
<div class="t" style="left:1120.89px;top:1107.50px;font-size:18.19px;line-height:18.19px;letter-spacing:1.30px;color:#5e5e5e;font-weight:400">音视频通讯终端</div>
<div class="t" style="left:1353.47px;top:1107.50px;font-size:18.19px;line-height:18.19px;letter-spacing:1.44px;color:#5e5e5e;font-weight:400">应急广播</div>
<div class="t" style="left:1486.25px;top:1107.32px;font-size:18.39px;line-height:18.39px;letter-spacing:0.53px;color:#5e5e5e;font-weight:400">移动APP终端</div>
<div class="t" style="left:114.15px;top:1610.70px;font-size:19.04px;line-height:19.04px;letter-spacing:0.40px;color:#5e5e5e;font-weight:400">音视频通讯终端</div>
<div class="t" style="left:320.92px;top:1610.51px;font-size:19.25px;line-height:19.25px;letter-spacing:-0.31px;color:#5e5e5e;font-weight:400">移动APP终端</div>
<div class="t" style="left:516.79px;top:1610.70px;font-size:19.04px;line-height:19.04px;letter-spacing:0.30px;color:#5e5e5e;font-weight:400">固定电话</div>
<div class="t" style="left:733.88px;top:1611.00px;font-size:18.40px;line-height:18.40px;letter-spacing:1.31px;color:#5e5e5e;font-weight:400">对讲报警</div>
<div class="t" style="left:891.46px;top:1611.00px;font-size:18.40px;line-height:18.40px;letter-spacing:1.06px;color:#5e5e5e;font-weight:400">应急广播</div>
<div class="t" style="left:1052.60px;top:1611.00px;font-size:18.40px;line-height:18.40px;letter-spacing:2.04px;color:#5e5e5e;font-weight:400">专业拾音</div>
<div class="t" style="left:1213.08px;top:1611.00px;font-size:18.40px;line-height:18.40px;letter-spacing:1.96px;color:#5e5e5e;font-weight:400">会议扩声</div>
<div class="t" style="left:1338.38px;top:1609.40px;font-size:17.23px;line-height:17.23px;letter-spacing:2.39px;color:#5e5e5e;font-weight:400">巡防/网格员手机</div>
<div class="t" style="left:1510.90px;top:1612.10px;font-size:17.42px;line-height:17.42px;letter-spacing:2.34px;color:#5e5e5e;font-weight:400">无线对讲机</div>
</body></html>
